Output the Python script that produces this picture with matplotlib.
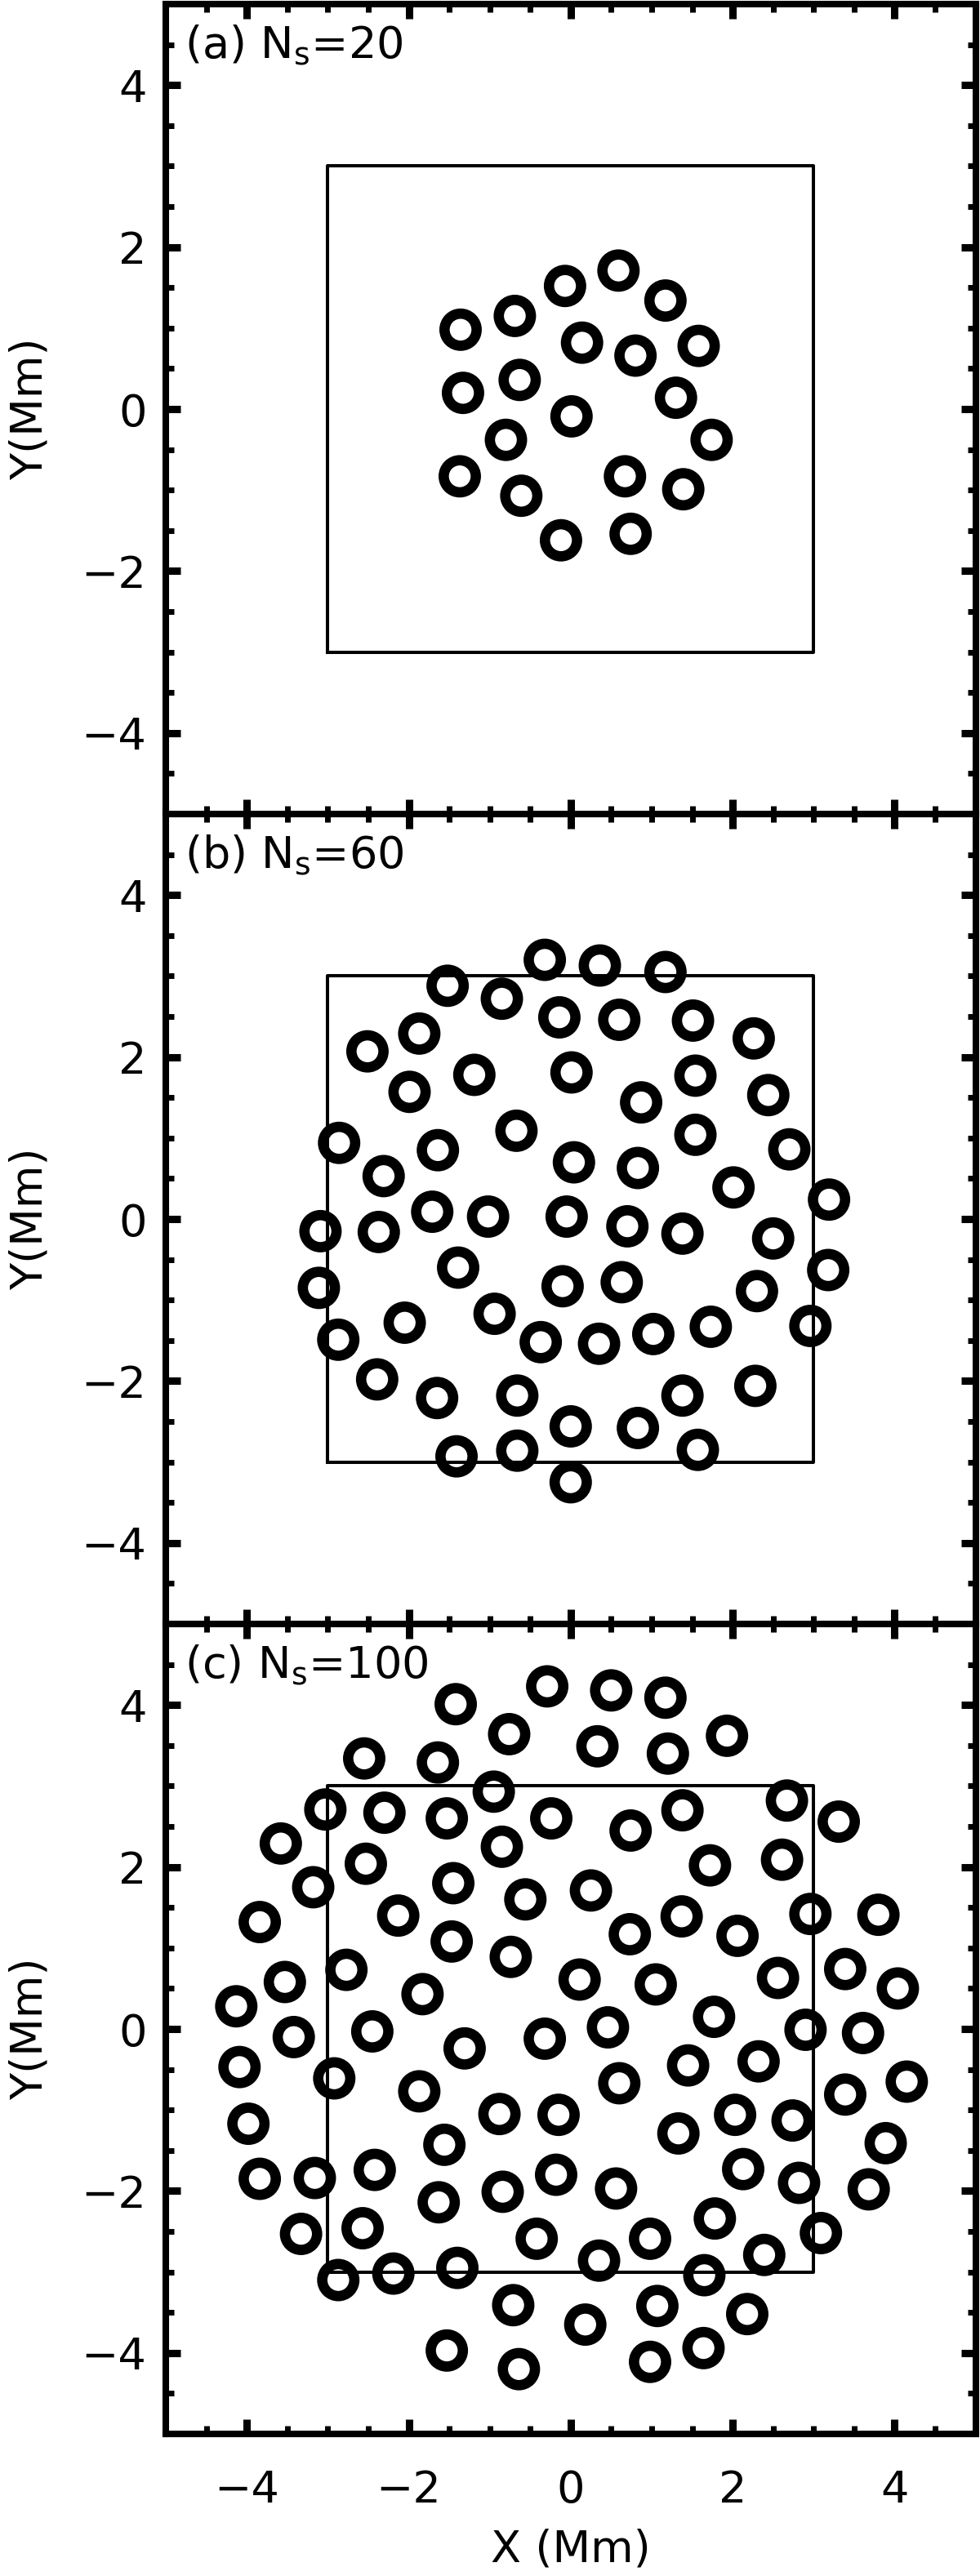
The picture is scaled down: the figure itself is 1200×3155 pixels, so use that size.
import matplotlib
matplotlib.use('Agg')
import matplotlib.pyplot as plt
from matplotlib.ticker import MultipleLocator

# seed (ring) centres, in Mm
x_a = [-1.36, -0.69, -0.07, 0.59, 1.17, 0.14, 0.80, 1.58, -1.33, -0.63,
       1.30, 0.01, -0.80, 1.74, -1.37, 0.67, -0.61, 1.39, -0.12, 0.74]
y_a = [0.98, 1.15, 1.52, 1.71, 1.34, 0.82, 0.66, 0.78, 0.20, 0.36,
       0.14, -0.09, -0.38, -0.38, -0.83, -0.83, -1.07, -0.99, -1.62, -1.54]

x_b = [-0.32, -1.52, -0.85, -0.14, -1.87, -2.51, -1.19, 0.01, -1.99, -0.67,
       -2.86, -1.64, 0.04, -2.31, -1.71, -1.02, -0.05, -3.09, -2.37,
       0.36, 1.17, 0.60, 1.51, 2.26, 1.54, 2.44, 0.87, 1.54, 2.70,
       0.83, 2.01, 3.19, 0.70, 1.38, 2.50,
       -1.39, -3.11, -0.10, -0.94, -2.05, -2.87, -0.37, -2.39, -1.65, -0.66,
       0.00, -1.41, -0.66, 0.00,
       3.18, 0.63, 2.30, 2.96, 1.73, 1.02, 0.35, 2.28, 1.38, 0.83, 1.57]
y_b = [3.20, 2.88, 2.72, 2.49, 2.29, 2.07, 1.78, 1.81, 1.57, 1.09,
       0.94, 0.85, 0.70, 0.53, 0.09, 0.03, 0.03, -0.15, -0.16,
       3.13, 3.05, 2.46, 2.45, 2.23, 1.77, 1.53, 1.44, 1.04, 0.86,
       0.63, 0.39, 0.24, -0.09, -0.18, -0.24,
       -0.60, -0.85, -0.83, -1.17, -1.28, -1.49, -1.52, -1.98, -2.21, -2.18,
       -2.56, -2.93, -2.86, -3.25,
       -0.63, -0.78, -0.89, -1.32, -1.33, -1.42, -1.54, -2.06, -2.18, -2.58, -2.85]

x_c = [-0.29, -1.42, -0.76, -2.55, -1.64, -0.95, -3.03, -2.30, -1.53, -0.24,
       -3.58, -0.85, -2.53, -1.45, -3.18, -0.56, -3.84, -2.13, -1.47, -0.74,
       -2.77, -3.53, -1.83, -4.13, -3.42, -2.45, -0.32,
       0.50, 1.17, 0.33, 1.20, 1.93, 1.38, 2.67, 0.74, 3.31, 1.72,
       2.61, 0.25, 1.37, 2.96, 3.80, 0.73, 2.06, 0.11, 1.05, 2.56,
       3.39, 4.04, 0.46, 1.77, 2.90, 3.61,
       -1.31, -4.09, -2.92, -1.87, -0.88, -0.15, -3.98, -1.56, -3.84, -3.16,
       -2.42, -0.84, -0.18, -1.63, -3.33, -2.57, -0.42, -2.87, -2.19, -1.40,
       -0.71, 0.18, -1.53, -0.64,
       1.45, 2.32, 0.60, 3.39, 4.15, 2.03, 2.74, 1.33, 3.89, 2.13,
       2.82, 0.56, 3.68, 1.78, 3.09, 0.98, 0.35, 2.39, 1.65, 1.07,
       2.18, 1.64, 0.98]
y_c = [4.23, 4.01, 3.64, 3.34, 3.29, 2.93, 2.71, 2.67, 2.60, 2.60,
       2.29, 2.25, 2.04, 1.80, 1.75, 1.60, 1.32, 1.40, 1.08, 0.89,
       0.73, 0.58, 0.43, 0.28, -0.10, -0.03, -0.12,
       4.18, 4.09, 3.49, 3.40, 3.62, 2.70, 2.82, 2.45, 2.56, 2.02,
       2.09, 1.71, 1.39, 1.42, 1.41, 1.17, 1.15, 0.61, 0.55, 0.63,
       0.74, 0.50, 0.02, 0.15, -0.01, -0.05,
       -0.24, -0.47, -0.61, -0.77, -1.05, -1.06, -1.17, -1.43, -1.85, -1.84,
       -1.74, -2.01, -1.80, -2.14, -2.53, -2.46, -2.59, -3.10, -3.02, -2.95,
       -3.41, -3.65, -3.97, -4.20,
       -0.45, -0.40, -0.67, -0.81, -0.65, -1.06, -1.13, -1.29, -1.41, -1.73,
       -1.90, -1.97, -1.98, -2.34, -2.52, -2.59, -2.86, -2.79, -3.04, -3.42,
       -3.52, -3.94, -4.11]

# central 6x6 Mm box
box_x = [-3, 3, 3, -3, -3]
box_y = [-3, -3, 3, 3, -3]

panel_tags = ['(a)', '(b)', '(c)']
n_seeds = [20, 60, 100]
ticks = [-4, -2, 0, 2, 4]

plt.rcParams['font.family'] = 'DejaVu Sans'
plt.rcParams['mathtext.fontset'] = 'dejavusans'

fig = plt.figure(figsize=(12, 31.55), dpi=100)

fs = 39
left, width, height = 0.1692, 0.8263, 0.31442
bottoms = [0.68399, 0.36957, 0.05515]
data = [(x_a, y_a), (x_b, y_b), (x_c, y_c)]

for i, (xs, ys) in enumerate(data):
    ax = fig.add_axes([left, bottoms[i], width, height])
    ax.plot(box_x, box_y, color='k', linewidth=2.9, zorder=2)
    ax.scatter(xs, ys, s=800, facecolors='none', edgecolors='k',
               linewidths=9.1, zorder=3)

    ax.set_xlim(-5, 5)
    ax.set_ylim(-5, 5)
    ax.set_xticks(ticks)
    ax.set_yticks(ticks)
    ax.xaxis.set_minor_locator(MultipleLocator(0.5))
    ax.yaxis.set_minor_locator(MultipleLocator(0.5))
    ax.tick_params(which='both', direction='in', top=True, right=True)
    ax.tick_params(which='major', length=13, width=6.5, labelsize=fs)
    ax.tick_params(which='minor', length=7, width=5)
    ax.tick_params(axis='x', pad=31)
    ax.tick_params(axis='y', pad=17)
    for sp in ax.spines.values():
        sp.set_linewidth(5.8)

    if i < 2:
        ax.tick_params(axis='x', labelbottom=False)
    else:
        ax.set_xlabel('X (Mm)', fontsize=fs)
        ax.xaxis.set_label_coords(0.5, -0.143)
        ax.xaxis.label.set_va('center')

    ax.set_ylabel('Y(Mm)', fontsize=fs)
    ax.yaxis.set_label_coords(-0.168, 0.5)
    ax.yaxis.label.set_va('center')

    ax.text(0.023, 0.976, rf'{panel_tags[i]} N$_{{\rm s}}$={n_seeds[i]}',
            transform=ax.transAxes, ha='left', va='top', fontsize=fs)

fig.savefig('out.png', dpi=100)
